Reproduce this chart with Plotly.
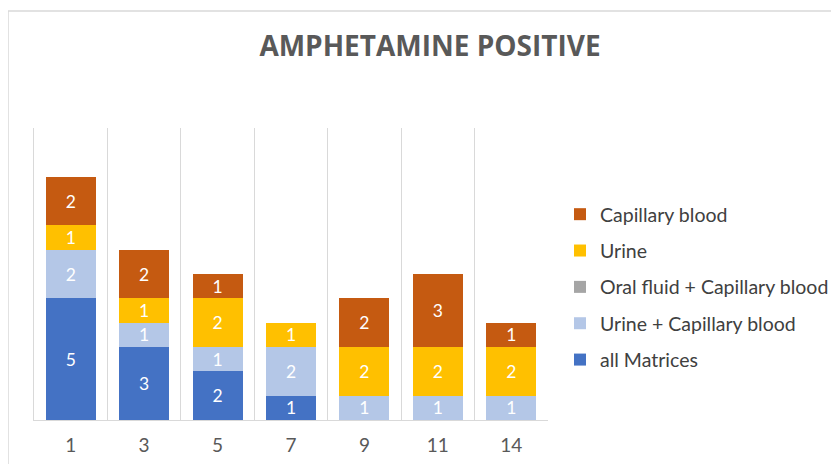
import plotly.graph_objects as go

categories = ["1", "3", "5", "7", "9", "11", "14"]
all_matrices = [5, 3, 2, 1, 0, 0, 0]
urine_cap = [2, 1, 1, 2, 1, 1, 1]
oral_cap = [0, 0, 0, 0, 0, 0, 0]
urine = [1, 1, 2, 1, 2, 2, 2]
capillary = [2, 2, 1, 0, 2, 3, 1]

series = [
    ("all Matrices", all_matrices, "#4472C4"),
    ("Urine + Capillary blood", urine_cap, "#B4C7E7"),
    ("Oral fluid + Capillary blood", oral_cap, "#A5A5A5"),
    ("Urine", urine, "#FFC000"),
    ("Capillary blood", capillary, "#C55A11"),
]

# page body adds an 8px offset; figure is sized to fill the rest of the window
W, H = 831, 456
L, R, T, B = 26, 291, 120, 44
PW, PH = W - L - R, H - T - B

fig = go.Figure()
for i, (name, vals, color) in enumerate(series):
    fig.add_trace(go.Bar(
        x=categories, y=vals, name=name, marker_color=color,
        marker_line_width=0,
        text=[str(v) if v else "" for v in vals],
        textposition="inside", insidetextanchor="middle", textangle=0,
        textfont=dict(color="white", size=17.5, family="Lato"),
        legendgroup=f"g{i}", legendrank=1000 - i,
        hoverinfo="x+y+name",
    ))

fig.update_layout(
    width=W, height=H,
    barmode="stack", bargap=0.32, uniformtext=dict(minsize=17, mode="show"),
    paper_bgcolor="white", plot_bgcolor="white",
    margin=dict(l=L, r=R, t=T, b=B, autoexpand=False),
    title=dict(text="<b>AMPHETAMINE POSITIVE</b>", x=422 / W, xanchor="center",
               y=1 - 38 / H, yanchor="middle",
               font=dict(family="Open Sans", size=28, color="#595959")),
    xaxis=dict(type="category", tickson="boundaries", showgrid=True,
               gridcolor="#D9D9D9", gridwidth=1, showline=True,
               linecolor="#D9D9D9", linewidth=1, ticks="",
               ticklabelstandoff=8, automargin=False,
               tickfont=dict(family="Lato", size=19, color="#595959")),
    yaxis=dict(range=[0, 12], showgrid=False, showticklabels=False,
               zeroline=False, showline=True, linecolor="#D9D9D9", linewidth=1,
               automargin=False),
    legend=dict(x=1.07 - 24 / PW, xanchor="left",
                y=1 - (187 - T) / PH, yanchor="top",
                traceorder="grouped", tracegroupgap=8,
                font=dict(family="Lato", size=19.5, color="#404040"),
                bgcolor="rgba(0,0,0,0)"),
    showlegend=True,
    shapes=[dict(type="rect", xref="paper", yref="paper",
                 x0=(0 - L) / PW, x1=(W + 10 - L) / PW,
                 y0=-(B + 10) / PH, y1=1 + (T - 3) / PH,
                 line=dict(color="#D9D9D9", width=1.5), layer="below")],
)

fig.write_html("out.html")
